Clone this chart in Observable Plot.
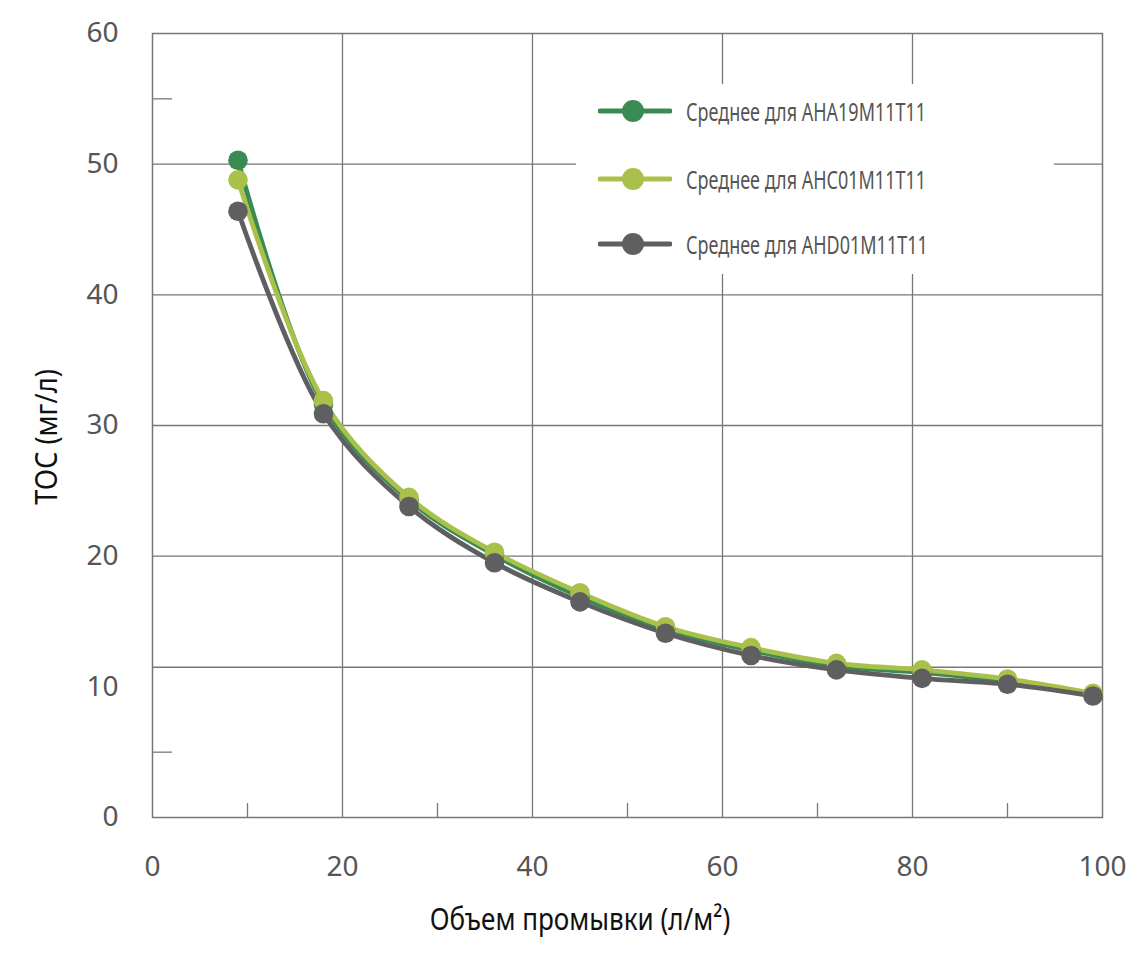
<!DOCTYPE html>
<html>
<head>
<meta charset="utf-8">
<script src="https://cdn.jsdelivr.net/npm/d3@7"></script>
<script src="https://cdn.jsdelivr.net/npm/@observablehq/plot@0.6"></script>
<style>
  html, body { margin: 0; padding: 0; background: #fff; }
  #wrap { position: relative; width: 1142px; height: 958px; }
  #legend { position: absolute; left: 576px; top: 84px; width: 478px; height: 190px; background: #fff; }
  .row { position: absolute; left: 22px; height: 30px; display: flex; align-items: center; }
  .row span { font-family: "Noto Sans", sans-serif; font-size: 25px; color: #555; margin-left: 14px; white-space: nowrap; display: inline-block; transform: scaleX(0.72); transform-origin: left center; }
  .title { position: absolute; font-family: "Noto Sans", sans-serif; font-size: 31px; color: #111; white-space: nowrap; line-height: 1; }
</style>
</head>
<body>
<div id="wrap"><div id="chart"></div><div id="legend"></div></div>
<script>
const volumes = [9, 18, 27, 36, 45, 54, 63, 72, 81, 90, 99];
const seriesNames = ["Среднее для AHA19M11T11", "Среднее для AHC01M11T11", "Среднее для AHD01M11T11"];
const aha19 = [50.3, 31.6, 24.3, 20.1, 16.9, 14.4, 12.8, 11.6, 11.1, 10.4, 9.4];
const ahc01 = [48.8, 31.9, 24.5, 20.3, 17.2, 14.6, 13.0, 11.8, 11.3, 10.6, 9.5];
const ahd01 = [46.4, 30.9, 23.8, 19.5, 16.5, 14.1, 12.4, 11.3, 10.65, 10.2, 9.3];
const colors = ["#3a8b53", "#a9c14b", "#5f5e60"];
const xTicks = [0, 20, 40, 60, 80, 100];
const xGrid = [20, 40, 60, 80];
const xMinor = [10, 30, 50, 70, 90];
const yTicks = [0, 10, 20, 30, 40, 50, 60];
const yGrid = [11.5, 20, 30, 40, 50];
const yMinor = [5, 55];
const xLabel = "Объем промывки (л/м²)";
const yLabel = "TOC (мг/л)";

const allSeries = [aha19, ahc01, ahd01];
const data = allSeries.flatMap((vals, i) => vals.map((v, j) => ({x: volumes[j], y: v, s: seriesNames[i]})));

const chart = Plot.plot({
  width: 1142,
  height: 958,
  marginLeft: 152,
  marginRight: 40,
  marginTop: 33,
  marginBottom: 141,
  style: {fontFamily: "'Noto Sans', sans-serif", fontSize: "28px", color: "#555", background: "#fff"},
  x: {domain: [0, 100]},
  y: {domain: [0, 60]},
  color: {domain: seriesNames, range: colors},
  marks: [
    Plot.ruleX(xGrid, {stroke: "#777", strokeWidth: 1.3}),
    Plot.ruleY(yGrid, {stroke: "#777", strokeWidth: 1.3}),
    Plot.frame({stroke: "#777", strokeWidth: 1.5}),
    Plot.axisX(xMinor, {tickSize: -14, text: null, stroke: "#777", strokeWidth: 1.3, label: null}),
    Plot.axisY(yMinor, {tickSize: -20, text: null, stroke: "#777", strokeWidth: 1.3, label: null}),
    Plot.axisX(xTicks, {tickSize: 0, tickPadding: 39, label: null, fill: "#555"}),
    Plot.axisY(yTicks, {tickSize: 0, tickPadding: 34, label: null, fill: "#555"}),
    Plot.line(data, {x: "x", y: "y", z: "s", stroke: "s", strokeWidth: 4.8, curve: "catmull-rom"}),
    Plot.dot(data, {x: "x", y: "y", fill: "s", r: 9.8})
  ]
});
document.getElementById("chart").appendChild(chart);

const wrap = document.getElementById("wrap");
const xt = document.createElement("div");
xt.className = "title";
xt.textContent = xLabel;
xt.style.left = "580px";
xt.style.top = "918px";
xt.style.transform = "translate(-50%, -50%) scaleX(0.84)";
wrap.appendChild(xt);

const yt = document.createElement("div");
yt.className = "title";
yt.textContent = yLabel;
yt.style.left = "45px";
yt.style.top = "437px";
yt.style.transform = "translate(-50%, -50%) rotate(-90deg) scaleX(0.88)";
wrap.appendChild(yt);

const legend = document.getElementById("legend");
const rowTops = [12, 80, 145];
seriesNames.forEach((name, i) => {
  const row = document.createElement("div");
  row.className = "row";
  row.style.top = rowTops[i] + "px";
  row.innerHTML = `<svg width="74" height="30"><line x1="2" x2="72" y1="15" y2="15" stroke="${colors[i]}" stroke-width="5" stroke-linecap="round"/><circle cx="35" cy="15" r="11" fill="${colors[i]}"/></svg><span>${name}</span>`;
  legend.appendChild(row);
});
</script>
</body>
</html>
